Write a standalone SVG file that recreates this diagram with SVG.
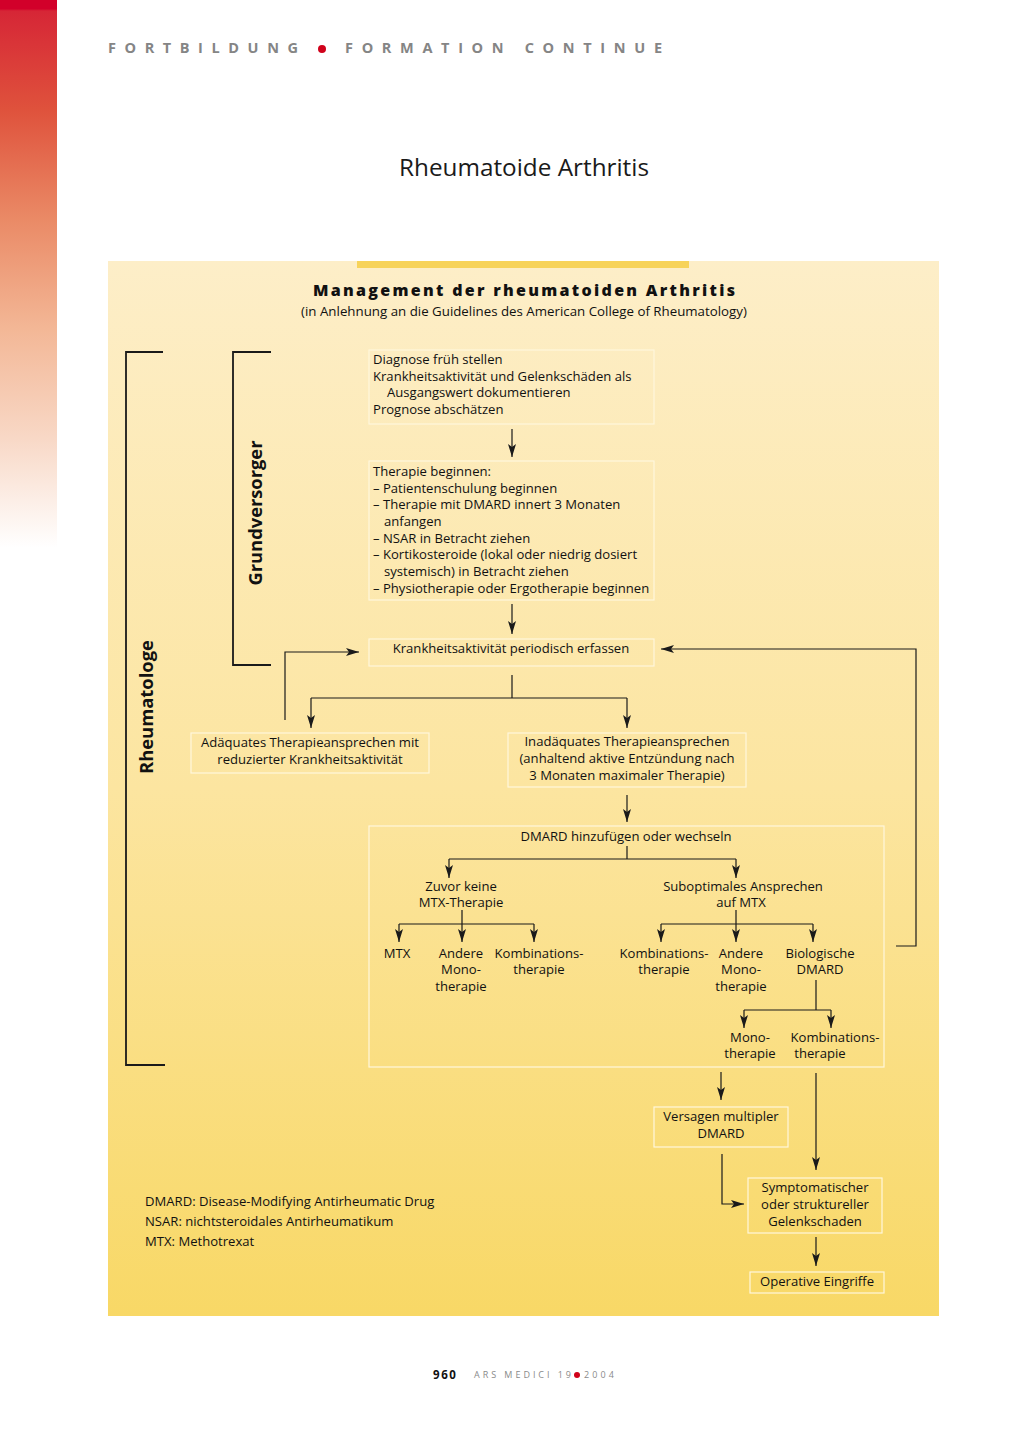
<svg xmlns="http://www.w3.org/2000/svg" width="1024" height="1436" viewBox="0 0 1024 1436">
<defs>
<linearGradient id="strip" x1="0" y1="0" x2="0" y2="1">
<stop offset="0" stop-color="#d2002a"/>
<stop offset="0.016" stop-color="#d2002a"/>
<stop offset="0.02" stop-color="#d62636"/>
<stop offset="0.2" stop-color="#df523c"/>
<stop offset="0.4" stop-color="#ea8a66"/>
<stop offset="0.6" stop-color="#f3b796"/>
<stop offset="0.8" stop-color="#f8d8c6"/>
<stop offset="1" stop-color="#ffffff"/>
</linearGradient>
<linearGradient id="panel" x1="0" y1="0" x2="0" y2="1">
<stop offset="0" stop-color="#fdeec8"/>
<stop offset="0.5" stop-color="#fce5a0"/>
<stop offset="1" stop-color="#f8d866"/>
</linearGradient>
<marker id="ah" markerUnits="userSpaceOnUse" markerWidth="14" markerHeight="10" refX="13" refY="4" orient="auto">
<path d="M0,0 L13,4 L0,8 L3,4 z" fill="#1a1a1a"/>
</marker>
<style>
.t{font-family:"Open Sans","Liberation Sans",sans-serif;font-size:13.1px;fill:#111}
.c{text-anchor:middle}
.box{fill:none;stroke:#fff7dc;stroke-width:1.2}
.ln{fill:none;stroke:#1a1a1a;stroke-width:1.2}
.ar{fill:none;stroke:#1a1a1a;stroke-width:1.2;marker-end:url(#ah)}
.br{fill:none;stroke:#1a1a1a;stroke-width:1.8}
.hd{font-family:"Open Sans","Liberation Sans",sans-serif;font-weight:bold;fill:#858585}
</style>
</defs>
<rect width="1024" height="1436" fill="#ffffff"/>
<rect x="0" y="0" width="57" height="548" fill="url(#strip)"/>
<g id="header">
<text class="hd" x="108" y="53" font-size="14.5" textLength="190" lengthAdjust="spacing">FORTBILDUNG</text>
<circle cx="322" cy="49" r="4" fill="#d0021b"/>
<text class="hd" x="345" y="53" font-size="14.5" textLength="317" lengthAdjust="spacing">FORMATION  CONTINUE</text>
</g>
<text x="524" y="176" text-anchor="middle" font-family="Open Sans, Liberation Sans, sans-serif" font-size="24.3" fill="#1a1a1a">Rheumatoide Arthritis</text>
<rect x="108" y="261" width="831" height="1055" fill="url(#panel)"/>
<rect x="357" y="261" width="332" height="7" fill="#f7d35a"/>
<text x="524" y="296" text-anchor="middle" font-family="Open Sans, Liberation Sans, sans-serif" font-weight="800" font-size="16" fill="#111" textLength="422" lengthAdjust="spacing">Management der rheumatoiden Arthritis</text>
<text class="t c" x="524" y="316" style="font-size:13.3px">(in Anlehnung an die Guidelines des American College of Rheumatology)</text>
<g id="brackets">
<polyline class="br" points="163,352 126,352 126,1065 165,1065"/>
<polyline class="br" points="271,352 233,352 233,665 271,665"/>
<text transform="translate(262,513) rotate(-90)" text-anchor="middle" font-family="Open Sans, Liberation Sans, sans-serif" font-weight="bold" font-size="18.5" fill="#111" textLength="145" lengthAdjust="spacingAndGlyphs">Grundversorger</text>
<text transform="translate(153,707) rotate(-90)" text-anchor="middle" font-family="Open Sans, Liberation Sans, sans-serif" font-weight="bold" font-size="18.5" fill="#111" textLength="134" lengthAdjust="spacingAndGlyphs">Rheumatologe</text>
</g>
<g id="n1">
<rect class="box" x="369" y="350" width="285" height="74"/>
<text class="t" x="373" y="364">Diagnose früh stellen</text>
<text class="t" x="373" y="381">Krankheitsaktivität und Gelenkschäden als</text>
<text class="t" x="387" y="397">Ausgangswert dokumentieren</text>
<text class="t" x="373" y="414">Prognose abschätzen</text>
</g>
<g id="n2">
<rect class="box" x="369" y="461" width="285" height="139"/>
<text class="t" x="373" y="476">Therapie beginnen:</text>
<text class="t" x="373" y="493">– Patientenschulung beginnen</text>
<text class="t" x="373" y="509">– Therapie mit DMARD innert 3 Monaten</text>
<text class="t" x="384" y="526">anfangen</text>
<text class="t" x="373" y="543">– NSAR in Betracht ziehen</text>
<text class="t" x="373" y="559">– Kortikosteroide (lokal oder niedrig dosiert</text>
<text class="t" x="384" y="576">systemisch) in Betracht ziehen</text>
<text class="t" x="373" y="593">– Physiotherapie oder Ergotherapie beginnen</text>
</g>
<g id="n3">
<rect class="box" x="369" y="639" width="285" height="27"/>
<text class="t c" x="511" y="653">Krankheitsaktivität periodisch erfassen</text>
</g>
<g id="n4">
<rect class="box" x="191" y="733" width="238" height="40"/>
<text class="t c" x="310" y="747">Adäquates Therapieansprechen mit</text>
<text class="t c" x="310" y="764">reduzierter Krankheitsaktivität</text>
</g>
<g id="n5">
<rect class="box" x="508" y="733" width="238" height="54"/>
<text class="t c" x="627" y="746">Inadäquates Therapieansprechen</text>
<text class="t c" x="627" y="763">(anhaltend aktive Entzündung nach</text>
<text class="t c" x="627" y="780">3 Monaten maximaler Therapie)</text>
</g>
<g id="n6">
<rect class="box" x="369" y="826" width="515" height="241"/>
<text class="t c" x="626" y="841">DMARD hinzufügen oder wechseln</text>
<text class="t c" x="461" y="891">Zuvor keine</text>
<text class="t c" x="461" y="907">MTX-Therapie</text>
<text class="t c" x="743" y="891">Suboptimales Ansprechen</text>
<text class="t c" x="741" y="907">auf MTX</text>
<text class="t c" x="397" y="958">MTX</text>
<text class="t c" x="461" y="958">Andere</text>
<text class="t c" x="461" y="974">Mono-</text>
<text class="t c" x="461" y="991">therapie</text>
<text class="t c" x="539" y="958">Kombinations-</text>
<text class="t c" x="539" y="974">therapie</text>
<text class="t c" x="664" y="958">Kombinations-</text>
<text class="t c" x="664" y="974">therapie</text>
<text class="t c" x="741" y="958">Andere</text>
<text class="t c" x="741" y="974">Mono-</text>
<text class="t c" x="741" y="991">therapie</text>
<text class="t c" x="820" y="958">Biologische</text>
<text class="t c" x="820" y="974">DMARD</text>
<text class="t c" x="750" y="1042">Mono-</text>
<text class="t c" x="750" y="1058">therapie</text>
<text class="t c" x="835" y="1042">Kombinations-</text>
<text class="t c" x="820" y="1058">therapie</text>
</g>
<g id="n7">
<rect class="box" x="654" y="1107" width="134" height="40"/>
<text class="t c" x="721" y="1121">Versagen multipler</text>
<text class="t c" x="721" y="1138">DMARD</text>
</g>
<g id="n8">
<rect class="box" x="748" y="1178" width="134" height="55"/>
<text class="t c" x="815" y="1192">Symptomatischer</text>
<text class="t c" x="815" y="1209">oder struktureller</text>
<text class="t c" x="815" y="1226">Gelenkschaden</text>
</g>
<g id="n9">
<rect class="box" x="750" y="1272" width="134" height="21"/>
<text class="t c" x="817" y="1286">Operative Eingriffe</text>
</g>
<g id="legend">
<text class="t" x="145" y="1206">DMARD: Disease-Modifying Antirheumatic Drug</text>
<text class="t" x="145" y="1226">NSAR: nichtsteroidales Antirheumatikum</text>
<text class="t" x="145" y="1246">MTX: Methotrexat</text>
</g>
<g id="connectors">
<path class="ar" d="M512,429 V457"/>
<path class="ar" d="M512,604 V634"/>
<path class="ln" d="M512,675 V698 M311,698 H627"/>
<path class="ar" d="M311,698 V728"/>
<path class="ar" d="M627,698 V728"/>
<path class="ar" d="M285,720 V652 H359"/>
<path class="ar" d="M896,946 H916 V649 H661"/>
<path class="ar" d="M627,795 V822"/>
<path class="ln" d="M627,846 V859 M449,859 H736"/>
<path class="ar" d="M449,859 V878"/>
<path class="ar" d="M736,859 V878"/>
<path class="ln" d="M462,910 V924 M399,924 H534"/>
<path class="ar" d="M399,924 V942"/>
<path class="ar" d="M462,924 V942"/>
<path class="ar" d="M534,924 V942"/>
<path class="ln" d="M736,910 V924 M661,924 H813"/>
<path class="ar" d="M661,924 V942"/>
<path class="ar" d="M736,924 V942"/>
<path class="ar" d="M813,924 V942"/>
<path class="ln" d="M816,980 V1010 M744,1010 H831"/>
<path class="ar" d="M744,1010 V1028"/>
<path class="ar" d="M831,1010 V1028"/>
<path class="ar" d="M721,1072 V1100"/>
<path class="ar" d="M816,1073 V1170"/>
<path class="ar" d="M722,1154 V1204 H744"/>
<path class="ar" d="M816,1237 V1266"/>
</g>
<g id="footer">
<text x="433" y="1379" font-family="Open Sans, Liberation Sans, sans-serif" font-weight="bold" font-size="11.5" fill="#111" letter-spacing="1.6">960</text>
<text x="474" y="1378" font-family="Open Sans, Liberation Sans, sans-serif" font-size="9" fill="#8a8a8a" textLength="97" lengthAdjust="spacing">ARS MEDICI 19</text>
<circle cx="577" cy="1375" r="3" fill="#d0021b"/>
<text x="584" y="1378" font-family="Open Sans, Liberation Sans, sans-serif" font-size="9" fill="#8a8a8a" textLength="30" lengthAdjust="spacing">2004</text>
</g>
</svg>
